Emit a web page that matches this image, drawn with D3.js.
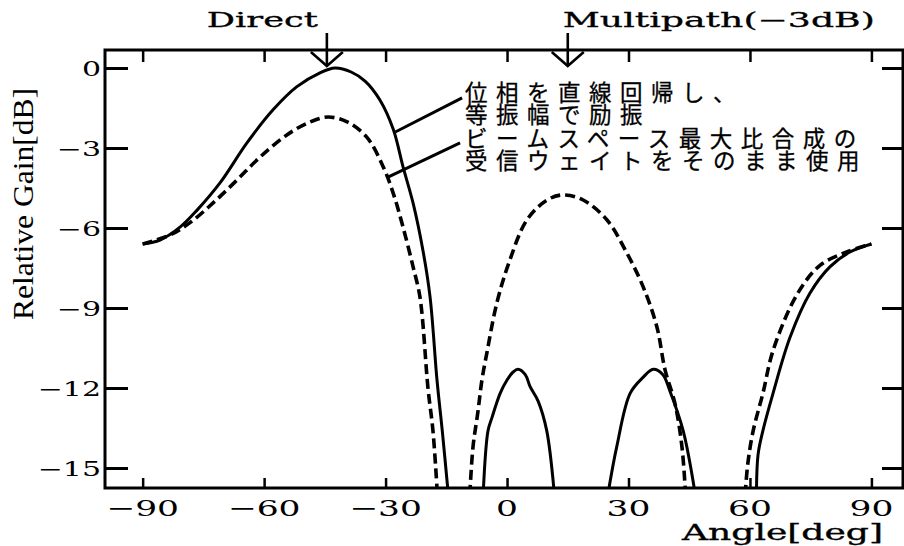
<!DOCTYPE html>
<html>
<head>
<meta charset="utf-8">
<script src="https://cdn.jsdelivr.net/npm/d3@7"></script>
<style>
  html, body { margin: 0; padding: 0; background: #fff; }
  svg { display: block; }
</style>
</head>
<body>
<svg id="chart" width="904" height="546"></svg>
<script>
// Tick values
const xTicks = [-90, -60, -30, 0, 30, 60, 90];
const yTicks = [0, -3, -6, -9, -12, -15];

// Linear-regression phase, equal amplitude excitation (solid), [angle deg, gain dB]
const solidMain = [[-90,-6.6],[-85.7,-6.45],[-80.7,-5.96],[-76.5,-5.32],[-70.9,-4.31],[-64.2,-2.8],
  [-57.8,-1.57],[-51.9,-0.7],[-46.2,-0.18],[-42.5,0],[-38.5,-0.15],[-35,-0.5],[-31.4,-1.2],[-28.1,-2.3],
  [-25.7,-3.7],[-23.2,-5.07],[-20.7,-6.9],[-19,-8.6],[-17.3,-11.7],[-16,-13.6],[-14.5,-16]];
const solidSide1 = [[-5.9,-16],[-4.7,-13.6],[-3.7,-13.1],[-1.7,-12.2],[0,-11.7],[1.5,-11.4],
  [2.7,-11.3],[4.5,-11.5],[5.7,-11.95],[7.7,-12.5],[9.8,-13.6],[11.7,-16]];
const solidSide2 = [[24.9,-16],[27.1,-14.2],[30.4,-12.2],[33.6,-11.6],[36.1,-11.3],[38.5,-11.5],
  [40.2,-12.1],[43.5,-13.6],[46.5,-16]];
const solidRight = [[61.6,-16],[62,-14.5],[63.2,-13.6],[65.7,-12.2],[69.9,-10.1],[74.8,-8.45],
  [79.8,-7.45],[84.7,-6.9],[90,-6.6]];

// Beam-space maximal-ratio-combining weights used as is (dashed)
const dashedMain = [[-90,-6.6],[-83.2,-6.26],[-78.3,-5.8],[-72.6,-5.06],[-66.7,-4.2],[-61,-3.34],
  [-54.3,-2.5],[-48.6,-2.02],[-44.2,-1.84],[-39.5,-2.02],[-34.6,-2.6],[-30.6,-3.7],[-28.1,-4.7],
  [-25.7,-5.96],[-23.2,-7.46],[-21.5,-8.6],[-19.5,-12.05],[-18.3,-13.6],[-17.2,-16]];
const dashedMulti = [[-9.2,-16],[-8.4,-14.2],[-7.2,-12.9],[-6.2,-11.7],[-5,-10.7],[-2.5,-8.8],
  [0.7,-7.2],[4.9,-5.7],[9.9,-4.95],[13.8,-4.76],[18.8,-4.95],[24.7,-5.7],[29.6,-6.94],
  [33.6,-8.2],[37,-9.7],[39,-11.3],[41.5,-12.6],[43.2,-14.2],[44.1,-16]];
const dashedRight = [[58.8,-16],[59.5,-14.8],[60.8,-13.6],[63.2,-12.2],[65.7,-10.6],[71.6,-8.5],
  [77.3,-7.4],[83.9,-6.9],[90,-6.6]];

// Arrival directions marked above the frame
const arrowAngles = [-44.5, 15];
const arrowLabels = ["Direct", "Multipath(\u22123dB)"];

// Legend lines and leader lines ([from angle, dB] -> [to angle, dB])
const legendSolid = ["位相を直線回帰し、", "等振幅で励振"];
const legendDashed = ["ビームスペース最大比合成の", "受信ウェイトをそのまま使用"];
const leaderSolid = [[-27.6, -2.4], [-11.1, -1.12]];
const leaderDashed = [[-29.4, -4.09], [-11.6, -2.81]];

const svg = d3.select("#chart");
const plotLeft = 105, plotRight = 903, plotTop = 50, plotBottom = 488;

const x = d3.scaleLinear().domain([-99.3, 97.8]).range([plotLeft, plotRight]);
const y = d3.scaleLinear().domain([-15.75, 0.675]).range([plotBottom, plotTop]);

svg.append("defs").append("clipPath").attr("id", "plotClip")
  .append("rect").attr("x", plotLeft).attr("y", plotTop)
  .attr("width", plotRight - plotLeft).attr("height", plotBottom - plotTop);

// Curves
const line = d3.line().x(d => x(d[0])).y(d => y(d[1])).curve(d3.curveCatmullRom.alpha(0.5));
const curves = svg.append("g").attr("clip-path", "url(#plotClip)")
  .attr("fill", "none").attr("stroke", "#000").attr("stroke-linejoin", "round");

[solidMain, solidSide1, solidSide2, solidRight].forEach(seg => {
  curves.append("path").attr("d", line(seg)).attr("stroke-width", 3);
});
[dashedMain, dashedMulti, dashedRight].forEach(seg => {
  curves.append("path").attr("d", line(seg)).attr("stroke-width", 3.6)
    .attr("stroke-dasharray", "10,5");
});

// Frame
svg.append("rect").attr("x", plotLeft).attr("y", plotTop)
  .attr("width", plotRight - plotLeft).attr("height", plotBottom - plotTop)
  .attr("fill", "none").attr("stroke", "#000").attr("stroke-width", 3);

// Inward ticks via d3 axes
const xBottom = svg.append("g").attr("transform", `translate(0,${plotBottom})`)
  .call(d3.axisBottom(x).tickValues(xTicks).tickSizeInner(-10).tickSizeOuter(0).tickFormat(""));
const xTop = svg.append("g").attr("transform", `translate(0,${plotTop})`)
  .call(d3.axisTop(x).tickValues(xTicks).tickSizeInner(-12).tickSizeOuter(0).tickFormat(""));
const yLeft = svg.append("g").attr("transform", `translate(${plotLeft},0)`)
  .call(d3.axisLeft(y).tickValues(yTicks).tickSizeInner(-23).tickSizeOuter(0).tickFormat(""));
const yRight = svg.append("g").attr("transform", `translate(${plotRight},0)`)
  .call(d3.axisRight(y).tickValues(yTicks).tickSizeInner(-21).tickSizeOuter(0).tickFormat(""));
[xBottom, xTop, yLeft, yRight].forEach(g => {
  g.select(".domain").remove();
  g.selectAll(".tick line").attr("stroke", "#000").attr("stroke-width", 3);
});
xBottom.selectAll(".tick line").attr("stroke-width", 2.5);
xTop.selectAll(".tick line").attr("stroke-width", 2.5);

const fmt = v => v < 0 ? "\u2212" + Math.abs(v) : String(v);

// Tick labels (wide serif)
svg.append("g").selectAll("text").data(xTicks).join("text")
  .attr("transform", d => `translate(${x(d)},516) scale(1.5,1)`)
  .attr("text-anchor", "middle")
  .attr("font-family", "DejaVu Serif").attr("font-size", 23)
  .text(fmt);

svg.append("g").selectAll("text").data(yTicks).join("text")
  .attr("transform", d => `translate(101,${y(d) + 8}) scale(1.5,1)`)
  .attr("text-anchor", "end")
  .attr("font-family", "DejaVu Serif").attr("font-size", 20)
  .text(fmt);

// Axis titles
svg.append("text")
  .attr("transform", "translate(33,204) rotate(-90)")
  .attr("text-anchor", "middle")
  .attr("font-family", "Liberation Serif").attr("font-size", 30)
  .attr("textLength", 232).attr("lengthAdjust", "spacingAndGlyphs")
  .text("Relative Gain[dB]");

svg.append("text")
  .attr("x", 682).attr("y", 540)
  .attr("font-family", "DejaVu Serif").attr("font-size", 23)
  .attr("stroke", "#000").attr("stroke-width", 0.35)
  .attr("textLength", 201).attr("lengthAdjust", "spacingAndGlyphs")
  .text("Angle[deg]");

// Arrows for arrival directions
const arrows = svg.append("g").attr("fill", "none").attr("stroke", "#000")
  .attr("stroke-width", 2.6).attr("stroke-linejoin", "miter");
arrowAngles.forEach(a => {
  const ax = x(a);
  arrows.append("line").attr("x1", ax).attr("x2", ax).attr("y1", 33).attr("y2", 66);
  arrows.append("path").attr("d", `M${ax - 16},52 L${ax},66 L${ax + 16},52`);
});

svg.append("text")
  .attr("x", x(arrowAngles[0]) - 120).attr("y", 27)
  .attr("font-family", "DejaVu Serif").attr("font-size", 20.5)
  .attr("stroke", "#000").attr("stroke-width", 0.3)
  .attr("textLength", 111).attr("lengthAdjust", "spacingAndGlyphs")
  .text(arrowLabels[0]);
svg.append("text")
  .attr("x", x(arrowAngles[1]) - 5).attr("y", 27)
  .attr("font-family", "DejaVu Serif").attr("font-size", 20.5)
  .attr("stroke", "#000").attr("stroke-width", 0.3)
  .attr("textLength", 312).attr("lengthAdjust", "spacingAndGlyphs")
  .text(arrowLabels[1]);

// Leader lines and legend text
const leaders = svg.append("g").attr("stroke", "#000").attr("stroke-width", 3);
[leaderSolid, leaderDashed].forEach(l => {
  leaders.append("line")
    .attr("x1", x(l[0][0])).attr("y1", y(l[0][1]))
    .attr("x2", x(l[1][0])).attr("y2", y(l[1][1]));
});

const legendX = x(leaderSolid[1][0]) + 3;
const legend = svg.append("g")
  .attr("font-family", "Noto Sans CJK JP").attr("font-size", 22.5)
  .attr("letter-spacing", "8.5px").attr("fill", "#000")
  .attr("stroke", "#000").attr("stroke-width", 0.3);
legendSolid.forEach((t, i) => {
  legend.append("text").attr("x", legendX).attr("y", [101, 123][i]).text(t);
});
legendDashed.forEach((t, i) => {
  legend.append("text").attr("x", legendX).attr("y", [147, 169][i]).text(t);
});
</script>
</body>
</html>
